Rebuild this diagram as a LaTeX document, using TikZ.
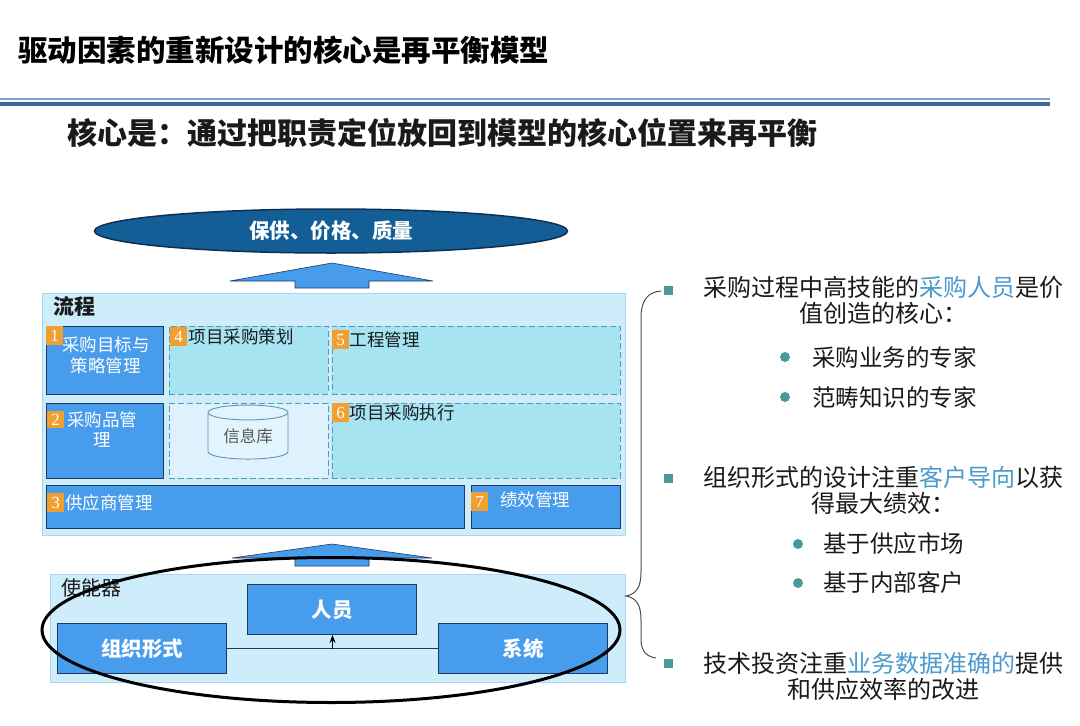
\documentclass[tikz,border=0pt]{standalone}
\usepackage{fontspec}
\setmainfont{Noto Sans CJK SC}
\newfontfamily\digitfont{Liberation Serif}
\usetikzlibrary{shapes.geometric,positioning,calc,arrows,arrows.meta}
\definecolor{navy}{RGB}{31,56,100}
\definecolor{boxblue}{RGB}{72,156,236}
\definecolor{flowbg}{RGB}{206,237,251}
\definecolor{flowline}{RGB}{168,216,238}
\definecolor{aqua}{RGB}{166,228,242}
\definecolor{dashteal}{RGB}{90,152,178}
\definecolor{goalblue}{RGB}{20,94,152}
\definecolor{goalline}{RGB}{12,48,84}
\definecolor{badgeor}{RGB}{240,160,48}
\definecolor{bullteal}{RGB}{74,154,154}
\definecolor{hlblue}{RGB}{74,154,205}
\definecolor{darkrule}{RGB}{58,106,154}
\definecolor{lightrule}{RGB}{128,166,204}
\definecolor{txtdark}{RGB}{26,26,26}

\begin{document}
\begin{tikzpicture}[x=1pt,y=-1pt,>={Stealth[length=8pt,width=6pt]},
  every node/.style={inner sep=0pt},
  bluebox/.style={draw=navy,fill=boxblue,line width=1pt,anchor=north west},
  dashbox/.style={draw=dashteal,fill=aqua,line width=0.9pt,dash pattern=on 6pt off 3pt,anchor=north west},
  badge/.style={fill=badgeor,text=white,minimum width=17,minimum height=19,anchor=north west,font=\digitfont\fontsize{17}{17}\selectfont},
  boxtxt/.style={font=\fontsize{17.5}{20}\selectfont,text=txtdark},
  whitetxt/.style={font=\fontsize{17.5}{21}\selectfont,text=white,align=center},
  bigtxt/.style={font=\bfseries\fontsize{20.5}{22}\selectfont,text=white},
  pointtxt/.style={font=\fontsize{24}{26}\selectfont,text=txtdark,align=center},
  subtxt/.style={font=\fontsize{23.5}{26}\selectfont,text=txtdark,anchor=west},
  sqbullet/.style={fill=bullteal,minimum size=9},
  dotbullet/.style={circle,fill=bullteal,minimum size=10},
  blockarrow/.style={draw=navy,fill=boxblue,line width=0.6pt}]

\useasboundingbox (0,0) rectangle (1080,726);

% title and rule
\node[anchor=west,font=\bfseries\fontsize{29.5}{30}\selectfont] (title) at (18,50) {驱动因素的重新设计的核心是再平衡模型};
\draw[lightrule,line width=2pt] (0,99) -- (1050,99);
\draw[darkrule,line width=4pt] (0,104) -- (1050,104);
\node[anchor=west,font=\bfseries\fontsize{30}{30}\selectfont,text=txtdark] (sub) at (67,133) {核心是：通过把职责定位放回到模型的核心位置来再平衡};

% goal
\node[ellipse,draw=goalline,fill=goalblue,line width=1.5pt,minimum width=473,minimum height=44,
  font=\bfseries\fontsize{20.5}{22}\selectfont,text=white] (goal) at (331,231) {保供、价格、质量};
\draw[blockarrow] (230,281) -- (332,263) -- (433,281) -- (369,281) -- (369,288) -- (295,288) -- (295,281) -- cycle;

% process layer
\node[draw=flowline,fill=flowbg,line width=1pt,anchor=north west,minimum width=583,minimum height=242] (flow) at (42,293) {};
\node[anchor=west,font=\bfseries\fontsize{21}{21}\selectfont,text=txtdark] (flowlbl) at (53,306) {流程};

\node[bluebox,minimum width=117,minimum height=68] (b1) at (46,326) {};
\node[dashbox,minimum width=159,minimum height=68] (b4) at (169,326) {};
\node[dashbox,minimum width=288,minimum height=68] (b5) at (332,326) {};
\node[bluebox,minimum width=117,minimum height=75] (b2) at (46,403) {};
\node[dashbox,fill=flowbg!70!white,minimum width=159,minimum height=75] (info) at (169,403) {};
\node[dashbox,minimum width=288,minimum height=75] (b6) at (332,403) {};
\node[bluebox,minimum width=418,minimum height=43] (b3) at (46,485) {};
\node[bluebox,minimum width=149,minimum height=43] (b7) at (471,485) {};

\node[cylinder,shape border rotate=90,aspect=0.3,draw=dashteal,fill=flowbg!60!white,line width=0.9pt,
  minimum width=80,minimum height=54,font=\fontsize{16.5}{17}\selectfont,text=black!65] (db) at (248,436) {信息库};

\node[badge] (n1) at (46,326) {1};
\node[badge] (n4) at (170,327) {4};
\node[badge] (n5) at (332,330) {5};
\node[badge,minimum height=17] (n2) at (47,411) {2};
\node[badge] (n3) at (47,493) {3};
\node[badge] (n6) at (332,403) {6};
\node[badge] (n7) at (471,492) {7};

\node[whitetxt] (t1) at (106,355.5) {采购目标与\\策略管理};
\node[whitetxt,font=\fontsize{17.5}{20}\selectfont] (t2) at (102,430) {采购品管\\理};
\node[boxtxt,text=white,anchor=west] (t3) at (65,503) {供应商管理};
\node[boxtxt,right=1pt of n4] (t4) {项目采购策划};
\node[boxtxt,right=0pt of n5] (t5) {工程管理};
\node[boxtxt,right=0pt of n6] (t6) {项目采购执行};
\node[boxtxt,text=white,anchor=west] (t7) at (500,500) {绩效管理};

% enablers
\draw[blockarrow] (232,558) -- (332,544) -- (432,558) -- (369,558) -- (369,566) -- (295,566) -- (295,558) -- cycle;
\node[draw=flowline,fill=flowbg,line width=1pt,anchor=north west,minimum width=575,minimum height=108] (enab) at (50,574) {};
\node[anchor=west,font=\fontsize{20}{20}\selectfont,text=txtdark] (enablbl) at (61,588) {使能器};

\node[bluebox,minimum width=169,minimum height=50] (ppl) at (247,584) {};
\node[bluebox,minimum width=169,minimum height=50] (org) at (57,623) {};
\node[bluebox,minimum width=169,minimum height=50] (sys) at (438,623) {};
\node[bigtxt] at (ppl.center) {人员};
\node[bigtxt] at (org.center) {组织形式};
\node[bigtxt] at (sys.center) {系统};

\coordinate (mid) at ($(org.east)!0.5!(sys.west)$);
\draw[navy,line width=1pt] (org.east) -- (sys.west);
\draw[->,line width=1pt] (mid) -- (mid |- ppl.south);

\node[ellipse,draw=black,line width=3pt,minimum width=578,minimum height=145] (ring) at (331,630) {};

% brace
\draw[black!70,line width=1pt] (661,291) .. controls (648,292) and (641,300) .. (641,318)
  -- (641,572) .. controls (641,588) and (636,594) .. (626,596)
  .. controls (636,598) and (641,604) .. (641,620)
  -- (641,640) .. controls (641,652) and (648,657) .. (656,658);

% points
\node[sqbullet] (s1) at (668,290) {};
\node[pointtxt] (p1) at (883,300) {采购过程中高技能的\textcolor{hlblue}{采购人员}是价\\值创造的核心：};
\node[dotbullet] (c1) at (785,357) {};
\node[subtxt] (p1a) at (812,357) {采购业务的专家};
\node[dotbullet] (c2) at (785,397) {};
\node[subtxt] (p1b) at (812,397) {范畴知识的专家};

\node[sqbullet] (s2) at (668,478) {};
\node[pointtxt] (p2) at (883,490) {组织形式的设计注重\textcolor{hlblue}{客户导向}以获\\得最大绩效：};
\node[dotbullet] (c3) at (798,544) {};
\node[subtxt] (p2a) at (823,544) {基于供应市场};
\node[dotbullet] (c4) at (798,583) {};
\node[subtxt] (p2b) at (823,583) {基于内部客户};

\node[sqbullet] (s3) at (668,663) {};
\node[pointtxt] (p3) at (883,676) {技术投资注重\textcolor{hlblue}{业务数据准确的}提供\\和供应效率的改进};

\end{tikzpicture}
\end{document}
